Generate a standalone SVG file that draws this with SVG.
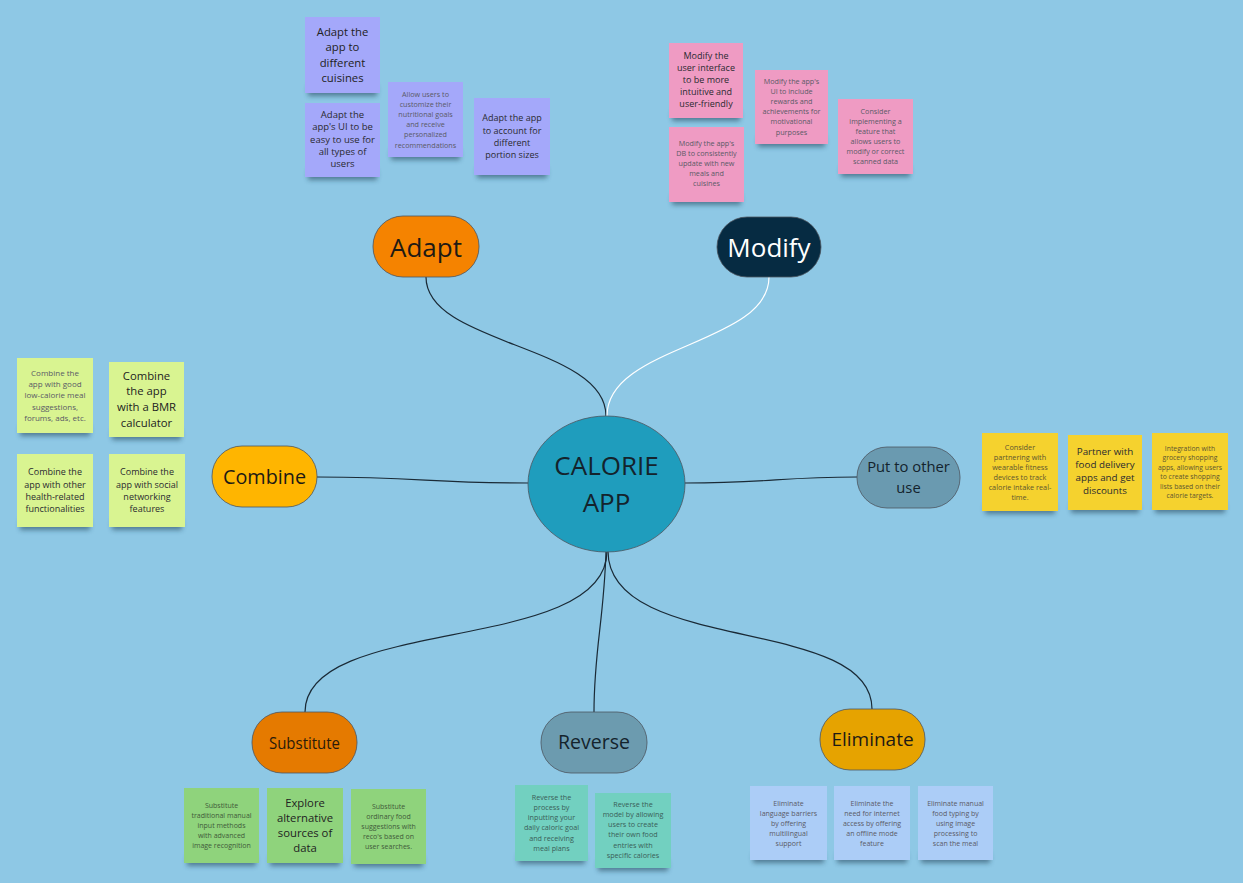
<svg xmlns="http://www.w3.org/2000/svg" width="1243" height="883" viewBox="0 0 1243 883">
<defs>
<filter id="blur" x="-20%" y="-100%" width="140%" height="300%"><feGaussianBlur stdDeviation="2.6"/></filter>
<style>
text{font-family:"Open Sans","Liberation Sans",sans-serif;text-anchor:middle}
.sh{fill:#1d3c52;opacity:.55;filter:url(#blur)}
.conn{fill:none;stroke:#1a2a36;stroke-width:1.2}
.node{stroke:#4d5560;stroke-width:.8}
.adapt{fill:#A4A8FA}.modify{fill:#EF9BC3}.combine{fill:#D9F491}.put{fill:#F5D22E}
.subst{fill:#8FD37C}.rev{fill:#72D0C0}.elim{fill:#ACCDF7}
.s{font-size:7.2px;fill:#5a5a66}
.m{font-size:9px;fill:#2a2a30}
.l{font-size:11.3px;fill:#222}
</style>
</defs>
<rect width="1243" height="883" fill="#8EC8E5"/>

<g id="connectors">
<path class="conn" d="M426 277 C426 345 606 345 606 416"/>
<path class="conn" d="M769 277 C769 345 607 345 607 416" style="stroke:#ffffff"/>
<path class="conn" d="M317 477 C420 477 430 483 528 483"/>
<path class="conn" d="M685 483 C770 483 780 477 857 477"/>
<path class="conn" d="M607 551 C607 655 305 615 305 712"/>
<path class="conn" d="M606 551 C604 620 594 650 594 712"/>
<path class="conn" d="M608 551 C608 655 872 615 872 709"/>
</g>

<g id="center">
<ellipse cx="606.5" cy="484" rx="78.5" ry="68" fill="#1F9DBD" class="node"/>
<text x="606.5" y="475" style="font-size:26px;fill:#14232c">CALORIE</text>
<text x="606.5" y="512" style="font-size:26px;fill:#14232c">APP</text>
</g>

<g id="node-adapt">
<rect x="373" y="216" width="106" height="61" rx="30" fill="#F58300" class="node"/>
<text x="426" y="257" style="font-size:26px;fill:#1e1a14">Adapt</text>
</g>
<g id="node-modify">
<rect x="717" y="217" width="104" height="60" rx="30" fill="#062B42" class="node"/>
<text x="769" y="257" style="font-size:26px;fill:#ffffff">Modify</text>
</g>
<g id="node-combine">
<rect x="212" y="446" width="105" height="61" rx="30" fill="#FFB500" class="node"/>
<text x="264.5" y="484" style="font-size:19.8px;fill:#1e1a14">Combine</text>
</g>
<g id="node-put">
<rect x="857" y="447" width="103" height="61" rx="30" fill="#6A9AB0" class="node"/>
<text x="908.5" y="472" style="font-size:14.8px;fill:#14232c">Put to other</text>
<text x="908.5" y="493" style="font-size:14.8px;fill:#14232c">use</text>
</g>
<g id="node-substitute">
<rect x="252" y="712" width="105" height="61" rx="30" fill="#E57A00" class="node"/>
<text x="304.5" y="749" style="font-size:16.5px;fill:#2a1a0a" textLength="71" lengthAdjust="spacingAndGlyphs">Substitute</text>
</g>
<g id="node-reverse">
<rect x="541" y="712" width="106" height="61" rx="30" fill="#6C9BAF" class="node"/>
<text x="594" y="749" style="font-size:19.5px;fill:#14232c">Reverse</text>
</g>
<g id="node-eliminate">
<rect x="820" y="709" width="105" height="61" rx="30" fill="#E6A300" class="node"/>
<text x="872.5" y="746" style="font-size:19px;fill:#1e1a14">Eliminate</text>
</g>

<!-- Adapt notes -->
<g id="note-a1">
<rect class="sh" x="308" y="86" width="69" height="10"/>
<rect class="adapt" x="305" y="17" width="75" height="76"/>
<text class="l"><tspan x="342.5" y="35.8">Adapt the</tspan><tspan x="342.5" y="51.3">app to</tspan><tspan x="342.5" y="66.8">different</tspan><tspan x="342.5" y="82.3">cuisines</tspan></text>
</g>
<g id="note-a2">
<rect class="sh" x="308" y="170" width="69" height="10"/>
<rect class="adapt" x="305" y="103" width="75" height="74"/>
<text class="m" style="font-size:9.5px"><tspan x="342.5" y="118">Adapt the</tspan><tspan x="342.5" y="130.3">app's UI to be</tspan><tspan x="342.5" y="142.6">easy to use for</tspan><tspan x="342.5" y="154.9">all types of</tspan><tspan x="342.5" y="167.2">users</tspan></text>
</g>
<g id="note-a3">
<rect class="sh" x="391" y="150" width="69" height="10"/>
<rect class="adapt" x="388" y="82" width="75" height="75"/>
<text class="s"><tspan x="425.5" y="96.5">Allow users to</tspan><tspan x="425.5" y="106.7">customize their</tspan><tspan x="425.5" y="116.9">nutritional goals</tspan><tspan x="425.5" y="127.1">and receive</tspan><tspan x="425.5" y="137.3">personalized</tspan><tspan x="425.5" y="147.5">recommendations</tspan></text>
</g>
<g id="note-a4">
<rect class="sh" x="477" y="168" width="70" height="10"/>
<rect class="adapt" x="474" y="98" width="76" height="77"/>
<text class="m"><tspan x="512" y="121.3">Adapt the app</tspan><tspan x="512" y="133.6">to account for</tspan><tspan x="512" y="145.9">different</tspan><tspan x="512" y="158.2">portion sizes</tspan></text>
</g>

<!-- Modify notes -->
<g id="note-m1">
<rect class="sh" x="672" y="111" width="68" height="10"/>
<rect class="modify" x="669" y="43" width="74" height="75"/>
<text class="m"><tspan x="706" y="59.2">Modify the</tspan><tspan x="706" y="71.2">user interface</tspan><tspan x="706" y="83.2">to be more</tspan><tspan x="706" y="95.2">intuitive and</tspan><tspan x="706" y="107.2">user-friendly</tspan></text>
</g>
<g id="note-m2">
<rect class="sh" x="672" y="195" width="69" height="10"/>
<rect class="modify" x="669" y="127" width="75" height="75"/>
<text class="s"><tspan x="706.5" y="146.3">Modify the app's</tspan><tspan x="706.5" y="156.3">DB to consistently</tspan><tspan x="706.5" y="166.3">update with new</tspan><tspan x="706.5" y="176.3">meals and</tspan><tspan x="706.5" y="186.3">cuisines</tspan></text>
</g>
<g id="note-m3">
<rect class="sh" x="758" y="137" width="67" height="10"/>
<rect class="modify" x="755" y="70" width="73" height="74"/>
<text class="s"><tspan x="791.5" y="84">Modify the app's</tspan><tspan x="791.5" y="94.1">UI to include</tspan><tspan x="791.5" y="104.2">rewards and</tspan><tspan x="791.5" y="114.3">achievements for</tspan><tspan x="791.5" y="124.4">motivational</tspan><tspan x="791.5" y="134.5">purposes</tspan></text>
</g>
<g id="note-m4">
<rect class="sh" x="841" y="167" width="69" height="10"/>
<rect class="modify" x="838" y="99" width="75" height="75"/>
<text class="s"><tspan x="875.5" y="114">Consider</tspan><tspan x="875.5" y="124">implementing a</tspan><tspan x="875.5" y="134">feature that</tspan><tspan x="875.5" y="144">allows users to</tspan><tspan x="875.5" y="154">modify or correct</tspan><tspan x="875.5" y="164">scanned data</tspan></text>
</g>

<!-- Combine notes -->
<g id="note-c1">
<rect class="sh" x="20" y="426" width="70" height="10"/>
<rect class="combine" x="17" y="358" width="76" height="75"/>
<text class="s" style="font-size:8px"><tspan x="55" y="375.6">Combine the</tspan><tspan x="55" y="386.9">app with good</tspan><tspan x="55" y="398.2">low-calorie meal</tspan><tspan x="55" y="409.5">suggestions,</tspan><tspan x="55" y="420.8">forums, ads, etc.</tspan></text>
</g>
<g id="note-c2">
<rect class="sh" x="112" y="430" width="69" height="10"/>
<rect class="combine" x="109" y="362" width="75" height="75"/>
<text class="l"><tspan x="146.5" y="379.5">Combine</tspan><tspan x="146.5" y="395.2">the app</tspan><tspan x="146.5" y="410.9">with a BMR</tspan><tspan x="146.5" y="426.6">calculator</tspan></text>
</g>
<g id="note-c3">
<rect class="sh" x="20" y="520" width="70" height="10"/>
<rect class="combine" x="17" y="454" width="76" height="73"/>
<text class="m"><tspan x="55" y="475.4">Combine the</tspan><tspan x="55" y="487.6">app with other</tspan><tspan x="55" y="499.8">health-related</tspan><tspan x="55" y="512">functionalities</tspan></text>
</g>
<g id="note-c4">
<rect class="sh" x="112" y="520" width="70" height="10"/>
<rect class="combine" x="109" y="454" width="76" height="73"/>
<text class="m"><tspan x="147" y="475.4">Combine the</tspan><tspan x="147" y="487.6">app with social</tspan><tspan x="147" y="499.8">networking</tspan><tspan x="147" y="512">features</tspan></text>
</g>

<!-- Put to other use notes -->
<g id="note-p1">
<rect class="sh" x="985" y="504" width="70" height="10"/>
<rect class="put" x="982" y="433" width="76" height="78"/>
<text class="s" style="font-size:7.3px;fill:#5d5530"><tspan x="1020" y="449.5">Consider</tspan><tspan x="1020" y="459.5">partnering with</tspan><tspan x="1020" y="469.5">wearable fitness</tspan><tspan x="1020" y="479.5">devices to track</tspan><tspan x="1020" y="489.5">calorie intake real-</tspan><tspan x="1020" y="499.5">time.</tspan></text>
</g>
<g id="note-p2">
<rect class="sh" x="1071" y="503" width="68" height="10"/>
<rect class="put" x="1068" y="435" width="74" height="75"/>
<text class="m" style="font-size:9.8px"><tspan x="1105" y="454.5">Partner with</tspan><tspan x="1105" y="467.5">food delivery</tspan><tspan x="1105" y="480.5">apps and get</tspan><tspan x="1105" y="493.5">discounts</tspan></text>
</g>
<g id="note-p3">
<rect class="sh" x="1155" y="503" width="70" height="10"/>
<rect class="put" x="1152" y="433" width="76" height="77"/>
<text class="s" style="font-size:6.8px;fill:#5d5530"><tspan x="1190" y="450.5">Integration with</tspan><tspan x="1190" y="460">grocery shopping</tspan><tspan x="1190" y="469.5">apps, allowing users</tspan><tspan x="1190" y="479">to create shopping</tspan><tspan x="1190" y="488.5">lists based on their</tspan><tspan x="1190" y="498">calorie targets.</tspan></text>
</g>

<!-- Substitute notes -->
<g id="note-s1">
<rect class="sh" x="187" y="856" width="69" height="10"/>
<rect class="subst" x="184" y="788" width="75" height="75"/>
<text class="s" style="font-size:7px;fill:#3f5a3a"><tspan x="221.5" y="808">Substitute</tspan><tspan x="221.5" y="818">traditional manual</tspan><tspan x="221.5" y="828">input methods</tspan><tspan x="221.5" y="838">with advanced</tspan><tspan x="221.5" y="848">image recognition</tspan></text>
</g>
<g id="note-s2">
<rect class="sh" x="270" y="856" width="70" height="10"/>
<rect class="subst" x="267" y="788" width="76" height="75"/>
<text class="l"><tspan x="305" y="806.5">Explore</tspan><tspan x="305" y="821.8">alternative</tspan><tspan x="305" y="837.1">sources of</tspan><tspan x="305" y="852.4">data</tspan></text>
</g>
<g id="note-s3">
<rect class="sh" x="354" y="857" width="69" height="10"/>
<rect class="subst" x="351" y="789" width="75" height="75"/>
<text class="s" style="font-size:7px;fill:#3f5a3a"><tspan x="388.5" y="809">Substitute</tspan><tspan x="388.5" y="819">ordinary food</tspan><tspan x="388.5" y="829">suggestions with</tspan><tspan x="388.5" y="839">reco's based on</tspan><tspan x="388.5" y="849">user searches.</tspan></text>
</g>

<!-- Reverse notes -->
<g id="note-r1">
<rect class="sh" x="518" y="854" width="67" height="10"/>
<rect class="rev" x="515" y="785" width="73" height="76"/>
<text class="s" style="fill:#3a5e58"><tspan x="551.5" y="799.5">Reverse the</tspan><tspan x="551.5" y="809.8">process by</tspan><tspan x="551.5" y="820.1">inputting your</tspan><tspan x="551.5" y="830.4">daily caloric goal</tspan><tspan x="551.5" y="840.7">and receiving</tspan><tspan x="551.5" y="851">meal plans</tspan></text>
</g>
<g id="note-r2">
<rect class="sh" x="598" y="861" width="70" height="10"/>
<rect class="rev" x="595" y="793" width="76" height="75"/>
<text class="s" style="fill:#3a5e58"><tspan x="633" y="806.5">Reverse the</tspan><tspan x="633" y="816.8">model by allowing</tspan><tspan x="633" y="827.1">users to create</tspan><tspan x="633" y="837.4">their own food</tspan><tspan x="633" y="847.7">entries with</tspan><tspan x="633" y="858">specific calories</tspan></text>
</g>

<!-- Eliminate notes -->
<g id="note-e1">
<rect class="sh" x="753" y="853" width="71" height="10"/>
<rect class="elim" x="750" y="786" width="77" height="74"/>
<text class="s" style="font-size:7px"><tspan x="788.5" y="805.5">Eliminate</tspan><tspan x="788.5" y="815.5">language barriers</tspan><tspan x="788.5" y="825.5">by offering</tspan><tspan x="788.5" y="835.5">multilingual</tspan><tspan x="788.5" y="845.5">support</tspan></text>
</g>
<g id="note-e2">
<rect class="sh" x="837" y="853" width="70" height="10"/>
<rect class="elim" x="834" y="786" width="76" height="74"/>
<text class="s" style="font-size:7px"><tspan x="872" y="805.5">Eliminate the</tspan><tspan x="872" y="815.5">need for internet</tspan><tspan x="872" y="825.5">access by offering</tspan><tspan x="872" y="835.5">an offline mode</tspan><tspan x="872" y="845.5">feature</tspan></text>
</g>
<g id="note-e3">
<rect class="sh" x="921" y="853" width="69" height="10"/>
<rect class="elim" x="918" y="786" width="75" height="74"/>
<text class="s" style="font-size:7px"><tspan x="955.5" y="805.5">Eliminate manual</tspan><tspan x="955.5" y="815.5">food typing by</tspan><tspan x="955.5" y="825.5">using image</tspan><tspan x="955.5" y="835.5">processing to</tspan><tspan x="955.5" y="845.5">scan the meal</tspan></text>
</g>
</svg>
